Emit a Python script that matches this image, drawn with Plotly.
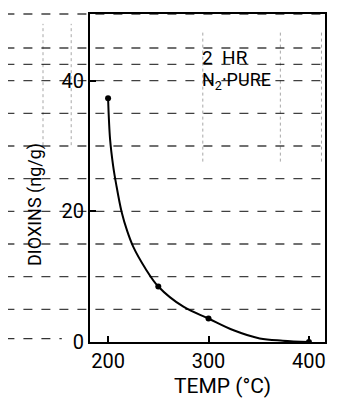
import plotly.graph_objects as go

# measured data points
temp = [200, 250, 300, 400]
dioxins = [37.3, 8.5, 3.6, 0.0]

# points
curve_t = [200, 202, 205, 208, 213.5, 219, 225, 237, 250, 275, 300, 325, 351, 374, 400]
curve_d = [37.3, 31.0, 27.0, 24.2, 19.9, 17.0, 14.6, 11.3, 8.5, 5.4, 3.6, 1.8, 0.55, 0.2, 0.0]

x_ticks = [200, 300, 400]
y_ticks = [0, 20, 40]
grid_levels = [5, 10, 15, 20, 25, 30, 35, 40, 42.5, 45, 50.2]

X_RANGE = [182, 416]
Y_RANGE = [0, 50.2]

FONT = "Roboto, Liberation Sans, sans-serif"

fig = go.Figure()
fig.add_trace(go.Scatter(x=curve_t, y=curve_d, mode="lines",
                         line=dict(color="black", width=2, shape="spline", smoothing=1.0),
                         hoverinfo="skip", showlegend=False))
fig.add_trace(go.Scatter(x=temp, y=dioxins, mode="markers",
                         marker=dict(color="black", size=6), showlegend=False))

shapes = []
for g in grid_levels:
    yp = (g - Y_RANGE[0]) / (Y_RANGE[1] - Y_RANGE[0])
    shapes.append(dict(type="line", xref="paper", yref="paper", x0=-0.36, x1=1.05,
                       y0=yp, y1=yp, line=dict(color="rgba(0,0,0,0.75)", width=1.3, dash="dash"),
                       layer="below"))
# dashed line continuing the zero level to the left
shapes.append(dict(type="line", xref="paper", yref="paper", x0=-0.36, x1=-0.12,
                   y0=0.01, y1=0.01, line=dict(color="rgba(0,0,0,0.8)", width=1.3, dash="dash")))
# faint vertical dotted scan lines
for xv in [0.48, 0.81, 0.985]:
    shapes.append(dict(type="line", xref="paper", yref="paper", x0=xv, x1=xv, y0=0.55, y1=0.95,
                       line=dict(color="rgba(0,0,0,0.35)", width=1, dash="dot"), layer="below"))
for xv in [-0.2, -0.08]:
    shapes.append(dict(type="line", xref="paper", yref="paper", x0=xv, x1=xv, y0=0.6, y1=0.97,
                       line=dict(color="rgba(0,0,0,0.35)", width=1, dash="dot"), layer="below"))

# page body has an 8px margin, so the figure is 8px smaller and margins shifted
fig.update_layout(
    width=329, height=400,
    margin=dict(l=82, r=12, t=4, b=66),
    paper_bgcolor="white", plot_bgcolor="white",
    font=dict(family=FONT, color="black", size=20),
    shapes=shapes,
    xaxis=dict(range=X_RANGE, tickvals=x_ticks, ticks="inside", ticklen=6, tickwidth=1.5,
               tickcolor="black", showline=True, linecolor="black", linewidth=2, mirror=True,
               showgrid=False, zeroline=False, tickfont=dict(size=20, family=FONT)),
    yaxis=dict(range=Y_RANGE, tickvals=y_ticks, ticks="inside", ticklen=6, tickwidth=1.5,
               tickcolor="black", showline=True, linecolor="black", linewidth=2, mirror=True,
               showgrid=False, zeroline=False, tickfont=dict(size=20, family=FONT)),
    annotations=[
        dict(text="2  HR", xref="paper", yref="paper", x=0.468, y=0.866, xanchor="left",
             yanchor="middle", showarrow=False, font=dict(size=19, family=FONT)),
        dict(text="N<sub>2</sub>·PURE", xref="paper", yref="paper", x=0.47, y=0.797, xanchor="left",
             yanchor="middle", showarrow=False, font=dict(size=18, family=FONT)),
        dict(text="DIOXINS (ng/g)", xref="paper", yref="paper", x=-0.235, y=0.42, textangle=-90,
             xanchor="center", yanchor="middle", showarrow=False, font=dict(size=18, family=FONT)),
        dict(text="TEMP (°C)", xref="paper", yref="paper", x=0.565, y=-0.135, xanchor="center",
             yanchor="middle", showarrow=False, font=dict(size=21, family=FONT)),
    ],
)

fig.write_html("out.html")
